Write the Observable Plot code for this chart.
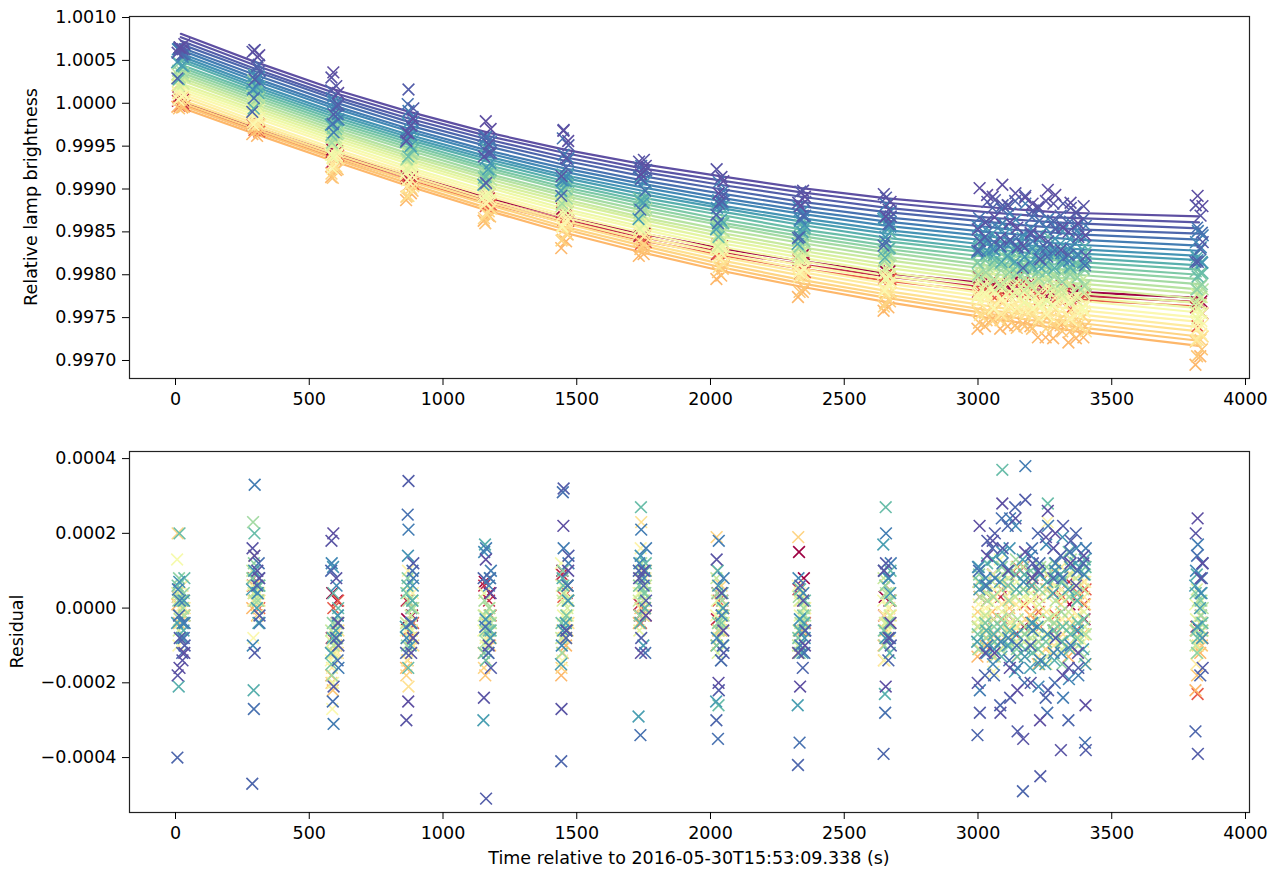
<!DOCTYPE html>
<html><head><meta charset="utf-8">
<script src="https://cdn.jsdelivr.net/npm/d3@7"></script>
<script src="https://cdn.jsdelivr.net/npm/@observablehq/plot@0.6"></script>
<style>
html,body{margin:0;padding:0;background:#fff;}
#chart{width:1283px;height:873px;}
#chart svg{display:block;}
</style></head><body><div id="chart"></div>
<script>
// Exposure group times (s); indices 10..14 are the dense block
const groupTimes = [20, 300, 595, 875, 1165, 1455, 1745, 2035, 2340, 2660, 3030, 3115, 3200, 3285, 3370, 3826];
const blockIndices = [10, 11, 12, 13, 14];
const singleSubOffsets = [-9, 9];
const blockSubOffsets = [-28, 28, 0];
// Position of each series in the Spectral colormap
const seriesColorPos = [1.0, 0.99, 0.975, 0.96, 0.94, 0.92, 0.90, 0.88, 0.86, 0.83, 0.80, 0.77, 0.74, 0.71, 0.68, 0.65, 0.62, 0.59, 0.56, 0.53, 0.50, 0.47, 0.44, 0.41, 0.38, 0.35, 0.32, 0.0, 0.07, 0.16];
// Small per-series time offsets of the exposures (s)
const seriesTimeOffsets = [4, -3, 5, -4, 2, 5, -2, 3, -5, 1, 4, -3, 2, -1, 5, -4, 1, -2, 3, -5, 0, 3, -1, 5, -3, 2, -4, 0, -2, 4];
// Fitted lamp brightness at groupTimes, in units of 1e-5 relative to 1
const fitLines = [
"81 48 16 -10 -34 -54 -71 -85 -99 -111 -121 -123 -125 -127 -128 -132",
"77 44 12 -14 -38 -58 -76 -90 -104 -116 -127 -129 -131 -133 -134 -139",
"73 40 8 -18 -42 -63 -80 -95 -109 -122 -133 -135 -137 -139 -140 -146",
"69 37 5 -22 -46 -67 -85 -100 -115 -127 -138 -141 -143 -145 -147 -152",
"65 33 1 -26 -50 -72 -90 -105 -120 -133 -144 -147 -149 -151 -153 -159",
"62 29 -3 -30 -55 -76 -94 -110 -125 -138 -150 -152 -155 -157 -159 -166",
"58 26 -6 -33 -58 -80 -98 -114 -129 -143 -155 -158 -160 -163 -165 -172",
"55 22 -10 -37 -62 -84 -102 -119 -134 -148 -160 -163 -166 -168 -170 -178",
"52 19 -13 -40 -65 -87 -106 -122 -138 -152 -165 -168 -170 -173 -175 -183",
"49 16 -16 -43 -68 -91 -110 -126 -142 -157 -170 -172 -175 -178 -180 -189",
"45 13 -19 -46 -72 -94 -114 -130 -147 -161 -174 -177 -180 -183 -185 -194",
"42 10 -22 -49 -75 -98 -117 -135 -151 -166 -179 -182 -185 -188 -190 -200",
"39 7 -25 -52 -78 -101 -121 -139 -155 -170 -184 -187 -190 -193 -195 -205",
"36 4 -28 -55 -82 -105 -125 -142 -159 -174 -189 -192 -195 -198 -200 -211",
"33 1 -31 -59 -85 -108 -129 -147 -163 -179 -193 -196 -199 -203 -205 -217",
"30 -2 -34 -62 -88 -112 -133 -151 -168 -183 -198 -201 -204 -208 -210 -222",
"27 -5 -37 -65 -92 -115 -136 -155 -172 -188 -203 -206 -209 -212 -215 -228",
"23 -8 -40 -68 -95 -119 -140 -159 -176 -192 -207 -211 -214 -217 -221 -233",
"20 -11 -43 -71 -98 -123 -144 -163 -180 -197 -212 -216 -219 -222 -226 -239",
"17 -14 -46 -75 -102 -126 -147 -167 -184 -201 -217 -220 -224 -227 -230 -244",
"14 -17 -49 -78 -105 -130 -151 -171 -189 -205 -222 -225 -229 -232 -236 -250",
"11 -21 -53 -81 -108 -133 -155 -175 -193 -210 -226 -230 -234 -237 -241 -255",
"8 -24 -56 -84 -112 -137 -159 -179 -197 -214 -231 -235 -238 -242 -246 -261",
"4 -27 -59 -87 -115 -140 -163 -183 -201 -219 -236 -240 -243 -247 -251 -266",
"1 -30 -62 -91 -118 -144 -166 -187 -206 -223 -241 -244 -248 -252 -256 -272",
"-2 -33 -65 -94 -122 -147 -170 -191 -210 -227 -245 -249 -253 -257 -261 -277",
"-5 -36 -68 -97 -125 -151 -174 -195 -214 -232 -250 -254 -258 -262 -266 -283",
"2 -28 -58 -84 -110 -133 -152 -169 -184 -198 -210 -213 -215 -218 -220 -227",
"0 -31 -61 -87 -113 -136 -156 -173 -188 -202 -215 -217 -219 -222 -224 -232",
"-1 -33 -63 -90 -116 -139 -160 -177 -193 -207 -220 -222 -224 -227 -229 -237"
];
// Residuals (units of 1e-5), first exposures: 10 single groups, 5 block times x 2, last group
const residualsA = [
"-16 14 20 -25 13 22 -12 -20 -21 -21 22 -12 28 -22 15 -30 26 -18 12 -26 24",
"-18 16 18 -30 -24 -27 8 13 -12 10 -20 18 -28 24 -35 10 19 -38 -16 14 20",
"-8 -12 -21 34 -51 32 -8 -22 6 12 -28 20 16 -33 29 -45 -22 22 18 -38 -39",
"-40 -47 10 -12 8 -41 10 -30 -42 -39 -34 16 -26 27 -49 20 -24 14 -30 12 -33",
"-2 -27 -25 25 -5 31 -34 -35 -36 -28 10 -18 24 -10 -20 12 -28 8 15 -36 14",
"2 33 -31 21 16 16 21 18 -10 20 -22 8 12 -16 38 -14 22 -24 -10 16 17",
"5 -10 12 -8 15 -10 12 -8 8 10 11 -15 -9 22 7 -21 17 -12 -19 9 10",
"7 10 11 14 -3 -6 14 6 -3 -8 5 -11 15 -7 -13 9 -7 19 11 -15 -5",
"-4 5 -12 -5 -30 -15 -29 -25 -26 17 -9 13 7 -17 13 -5 -15 9 5 -11 6",
"-21 -22 -8 6 17 8 -4 10 -6 -23 11 -7 -13 5 9 -15 7 -9 -11 13 9",
"20 20 4 -16 -14 6 27 -26 5 27 7 -9 37 -13 -11 9 28 -5 -7 11 -8",
"6 8 -15 4 -12 -4 6 -10 -8 -6 -7 13 -5 9 5 -11 -9 7 15 -3 4",
"8 12 -4 8 -6 10 8 -4 -12 6 9 -5 11 -11 -7 5 7 -15 -5 9 -12",
"2 23 -18 -10 2 -12 -2 4 3 -10 -11 3 -3 13 7 -9 11 -1 3 -13 -6",
"-3 2 -10 2 -9 4 12 -6 -4 4 3 -13 9 -3 -5 11 -3 7 13 -7 2",
"4 10 -6 -4 -2 -8 2 8 -10 8 -5 7 -11 3 11 -3 5 -9 -1 5 -10",
"-6 4 -12 6 -4 2 4 -12 2 -4 7 -3 -7 11 -9 1 9 -11 5 -5 5",
"3 8 -9 -8 4 6 -6 2 -6 10 -3 9 5 -9 3 -7 -13 3 9 -1 -3",
"-2 14 -20 4 -10 -2 10 -8 -2 -8 5 -7 -1 7 -13 9 3 -5 -7 11 -12",
"13 6 -14 -6 -6 12 4 -2 6 2 -9 1 13 -5 1 -11 -7 9 3 -9 1",
"-10 -8 -27 -12 2 -14 6 6 -8 -14 1 -17 -3 5 9 -5 -15 5 11 -7 -6",
"0 10 -8 10 -8 4 16 -4 4 6 -5 5 1 -9 -7 3 23 -3 -11 7 -8",
"4 2 -16 -14 -2 -6 8 10 -6 -2 7 -9 -11 1 5 -13 -1 11 -5 3 -15",
"2 6 -12 -21 -14 -8 23 -8 2 -4 -11 3 7 -5 -3 9 5 -7 9 -15 -10",
"20 8 -20 -18 -16 -16 6 19 19 -14 -1 -13 -9 3 5 -7 -11 1 -3 7 -6",
"-4 4 -22 -14 -18 -12 0 -6 -10 -6 -11 3 1 -13 -7 -1 7 -9 -5 1 -18",
"1 0 -18 -16 -12 -18 -4 -10 -12 -10 -13 -1 -9 -5 1 -15 -11 3 -13 -7 -22",
"5 8 4 -3 7 10 -2 4 15 3 7 -3 5 9 -5 3 -7 5 1 -3 -5",
"3 6 -8 2 6 9 1 -3 5 -2 -5 9 3 -7 11 -1 5 -9 7 1 -6",
"-2 2 0 -6 -4 3 -4 2 -6 6 3 -7 -3 11 1 -5 9 3 -11 5 -23"
];
// Residuals (units of 1e-5), second exposures: one per group time
const residualsB = [
"-12 8 -4 -8 4 10 -2 -6 -10 -4 14 -16 8 20 -12 12",
"-14 10 8 -12 -10 -6 10 4 2 -8 -12 10 -20 16 6 8",
"-10 -2 -10 12 -16 14 2 -12 -6 -10 18 -24 12 -8 -16 -16",
"-12 6 -8 -4 -12 -8 6 -14 -16 -14 -18 22 -10 8 20 -18",
"-8 12 -14 10 8 6 -12 -10 -12 -8 6 -14 16 -20 10 8",
"-4 -4 -16 8 10 12 16 8 -6 12 -10 24 -6 12 -18 12",
"-4 4 6 -4 6 -6 8 -2 4 8 8 -8 14 -12 16 4",
"2 8 -2 6 -8 2 10 0 -8 4 -12 16 -4 10 -6 -8",
"-8 0 -6 -10 -12 -4 -10 -14 -12 8 6 -10 -16 4 12 0",
"-6 -4 -4 2 8 6 0 4 -4 -12 -6 10 6 -14 2 4",
"8 6 0 -8 -6 2 12 -10 2 10 12 -6 -12 8 -4 -4",
"2 4 -8 0 -6 -2 4 -4 -2 -4 -4 6 10 -6 4 2",
"4 6 -2 2 -2 6 4 0 -6 2 6 -10 -4 12 -8 -6",
"0 2 -8 -4 0 -6 0 2 0 -4 -8 2 6 -4 10 -2",
"-2 6 -4 0 -4 2 6 -2 -2 2 2 -6 8 2 -10 0",
"2 4 -6 -2 -4 -4 2 4 -4 4 -2 6 -8 -6 8 -4",
"-4 2 -8 2 -2 0 4 -6 0 -2 4 -2 -6 10 2 2",
"0 6 -4 -6 0 2 -2 0 -4 4 -6 8 4 -2 -8 -2",
"2 4 -10 0 -6 -2 6 -4 0 -4 4 -4 -10 6 2 -6",
"6 2 -6 -2 -4 4 2 0 2 0 -4 10 2 -8 6 0",
"-4 -2 -12 -6 0 -6 4 2 -4 -6 0 -10 8 -4 -2 -4",
"0 4 -4 4 -4 2 8 -2 0 2 -2 4 -6 10 -4 -4",
"2 0 -8 -6 -2 -2 4 4 -2 0 6 -6 2 -10 4 -8",
"0 2 -6 -10 -8 -4 10 -4 0 -2 -6 2 -4 6 -8 -6",
"6 4 -12 -8 -8 -8 2 6 4 -6 -4 -8 2 -6 4 -4",
"-2 2 -12 -8 -10 -6 0 -2 -6 -4 -8 0 -10 -4 -2 -10",
"0 -2 -10 -8 -6 -10 -2 -6 -6 -6 -10 -6 -2 -12 -8 -12",
"2 4 2 -2 4 6 0 2 8 2 4 -2 6 -6 2 -4",
"0 2 -4 0 2 4 0 -2 2 0 -2 6 -4 4 -6 -2",
"-2 0 2 -4 -2 2 -2 0 -4 2 2 -4 6 -2 4 -8"
];
const xTicks = [0, 500, 1000, 1500, 2000, 2500, 3000, 3500, 4000];
const topYTicks = [0.9970, 0.9975, 0.9980, 0.9985, 0.9990, 0.9995, 1.0000, 1.0005, 1.0010];
const residYTicks = [-0.0004, -0.0002, 0, 0.0002, 0.0004];

const parse = s => s.trim().split(/\s+/).map(Number);
const lineVals = fitLines.map(parse);
const resA = residualsA.map(parse);
const resB = residualsB.map(parse);
const order = d3.range(fitLines.length).sort((a, b) => seriesColorPos[a] - seriesColorPos[b]);

const lineRows = [], markRows = [];
for (const s of order) {
  const c = seriesColorPos[s];
  lineVals[s].forEach((v, k) => lineRows.push({s, t: groupTimes[k], v: 1 + v * 1e-5, c}));
}
for (const s of order) {
  const c = seriesColorPos[s];
  let j = 0;
  groupTimes.forEach((t, k) => {
    const isBlock = blockIndices.includes(k);
    const vals = isBlock ? [resA[s][j++], resA[s][j++], resB[s][k]] : [resA[s][j++], resB[s][k]];
    const offs = isBlock ? blockSubOffsets : singleSubOffsets;
    vals.forEach((r, m) => markRows.push({
      s, c, t: t + offs[m] + seriesTimeOffsets[s],
      r: r * 1e-5, v: 1 + (lineVals[s][k] + r) * 1e-5
    }));
  });
}

const font = "'DejaVu Sans', sans-serif";
const common = {
  width: 1283,
  marginLeft: 129, marginRight: 34,
  x: {domain: [-172, 4015]},
  color: {type: "linear", scheme: "spectral", domain: [0, 1]},
  style: {fontFamily: font, fontSize: "17.5px", color: "#000", background: "#fff", overflow: "visible"}
};
const axisX = () => Plot.axisX({ticks: xTicks, tickFormat: d3.format("d"), tickSize: 7, tickPadding: 7, label: null});
const markOpts = {stroke: "c", symbol: "times", r: 5.4, strokeWidth: 1.6};

const topPlot = Plot.plot({
  ...common,
  height: 440, marginTop: 16, marginBottom: 62,
  y: {domain: [0.996790, 1.001012]},
  marks: [
    Plot.line(lineRows, {x: "t", y: "v", z: "s", stroke: "c", strokeWidth: 2.2}),
    Plot.dot(markRows, {x: "t", y: "v", ...markOpts}),
    Plot.frame({stroke: "#222", strokeWidth: 1.2}),
    axisX(),
    Plot.axisY({ticks: topYTicks, tickFormat: d3.format(".4f"), tickSize: 7, tickPadding: 6, label: null})
  ]
});

const bottomPlot = Plot.plot({
  ...common,
  height: 433, marginTop: 11, marginBottom: 61,
  y: {domain: [-0.000547, 0.000419]},
  marks: [
    Plot.dot(markRows, {x: "t", y: "r", ...markOpts}),
    Plot.frame({stroke: "#222", strokeWidth: 1.2}),
    axisX(),
    Plot.axisY({ticks: residYTicks, tickFormat: d3.format(".4f"), tickSize: 7, tickPadding: 6, label: null})
  ]
});

const chart = document.getElementById("chart");
chart.appendChild(topPlot);
chart.appendChild(bottomPlot);

function addLabel(svg, x, y, text, rotate) {
  d3.select(svg).append("text")
    .attr("transform", `translate(${x},${y})` + (rotate ? " rotate(-90)" : ""))
    .attr("text-anchor", "middle").attr("dy", "0.35em")
    .attr("fill", "#000").style("font-family", font).style("font-size", "17.5px")
    .text(text);
}
addLabel(topPlot, 31, 197, "Relative lamp brightness", true);
addLabel(bottomPlot, 16.5, 191.5, "Residual", true);
addLabel(bottomPlot, 689, 417.5, "Time relative to 2016-05-30T15:53:09.338 (s)", false);
</script></body></html>
